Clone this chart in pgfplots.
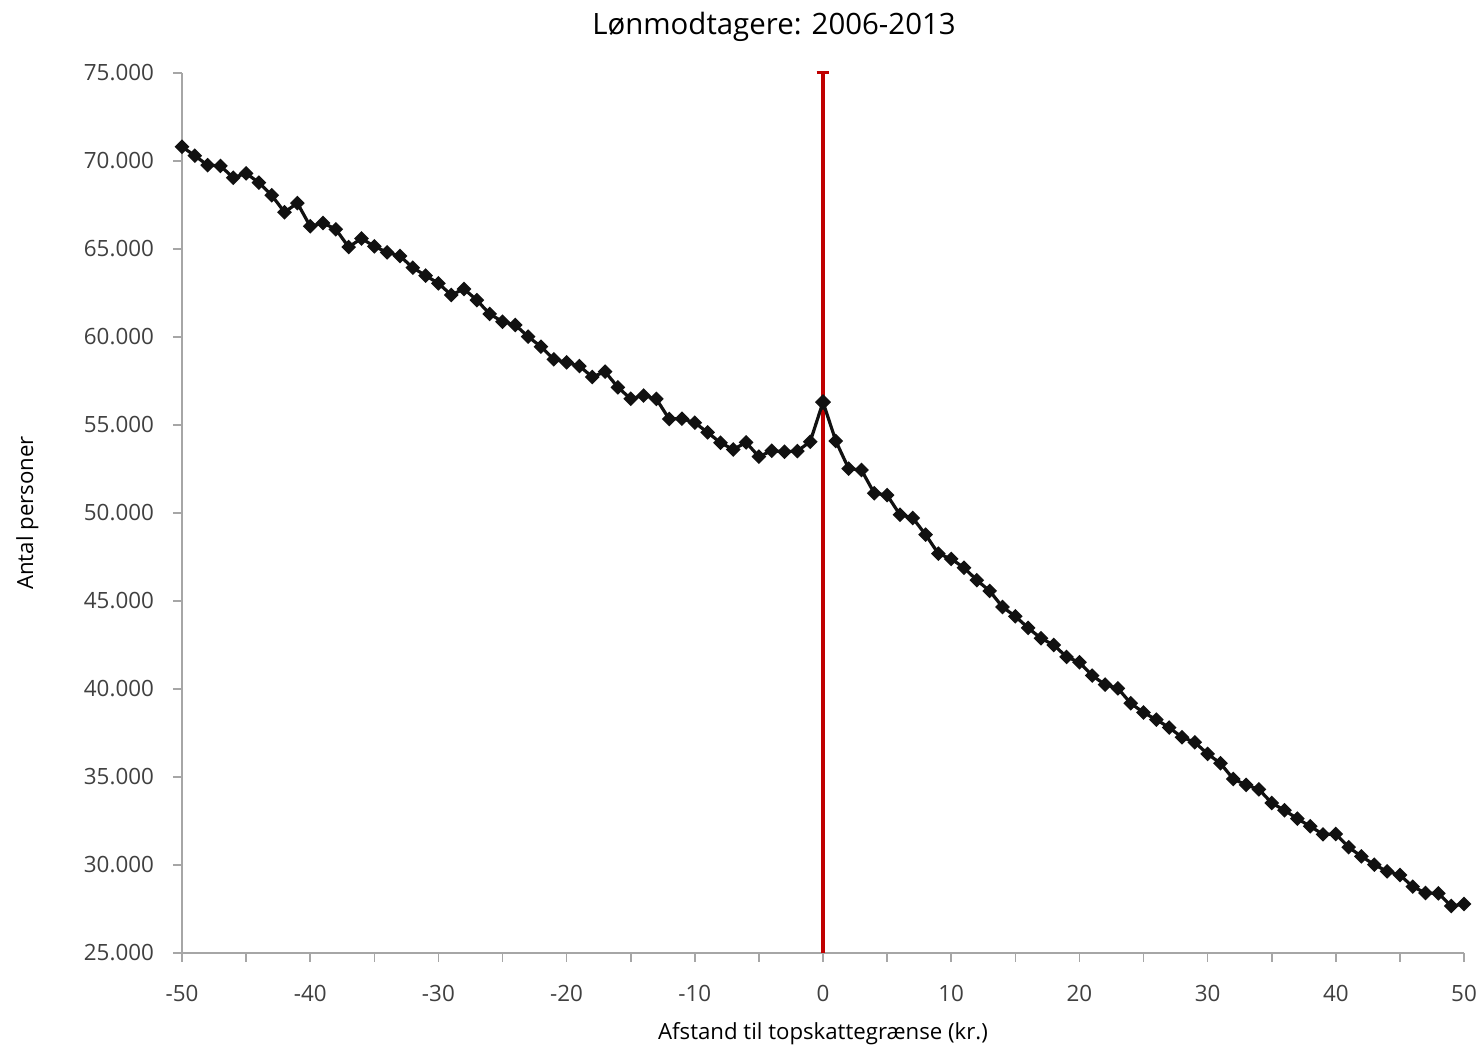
\documentclass[border=0pt]{standalone}
\usepackage{pgfplots}
\pgfplotsset{compat=1.18}
\usepackage{fontspec}
\setmainfont{Open Sans}

\definecolor{axisgray}{HTML}{A6A6A6}
\definecolor{ticktext}{HTML}{404040}
\definecolor{cutred}{HTML}{C00000}
\definecolor{serie}{HTML}{111111}

\pgfplotstableread{
x y
-50 70810
-49 70300
-48 69760
-47 69720
-46 69050
-45 69300
-44 68770
-43 68050
-42 67090
-41 67610
-40 66290
-39 66480
-38 66120
-37 65110
-36 65600
-35 65150
-34 64810
-33 64600
-32 63940
-31 63490
-30 63050
-29 62390
-28 62730
-27 62090
-26 61310
-25 60870
-24 60680
-23 60020
-22 59450
-21 58730
-20 58560
-19 58350
-18 57730
-17 58030
-16 57140
-15 56490
-14 56670
-13 56480
-12 55340
-11 55360
-10 55130
-9 54580
-8 53990
-7 53610
-6 54010
-5 53200
-4 53540
-3 53480
-2 53520
-1 54050
0 56300
1 54090
2 52520
3 52440
4 51120
5 51020
6 49900
7 49720
8 48770
9 47690
10 47390
11 46890
12 46180
13 45570
14 44660
15 44130
16 43470
17 42880
18 42500
19 41820
20 41520
21 40760
22 40250
23 40040
24 39190
25 38660
26 38260
27 37810
28 37260
29 36970
30 36310
31 35780
32 34890
33 34550
34 34300
35 33520
36 33110
37 32630
38 32200
39 31740
40 31760
41 31010
42 30490
43 30020
44 29640
45 29430
46 28770
47 28410
48 28390
49 27670
50 27780
}\lonmod

\begin{document}
\begin{tikzpicture}
\begin{axis}[
    scale only axis,
    width=641pt, height=440pt,
    xmin=-50, xmax=50,
    ymin=25000, ymax=75000,
    axis lines*=left,
    axis line style={axisgray, line width=0.8pt},
    tick style={axisgray, line width=0.8pt},
    tick align=outside,
    major tick length=4.5pt,
    minor tick length=4.5pt,
    xtick distance=10,
    minor x tick num=1,
    ytick distance=5000,
    clip=false,
    /pgf/number format/assume math mode=true,
    /pgf/number format/1000 sep={.},
    scaled y ticks=false,
    ticklabel style={font=\fontsize{11.2}{13}\selectfont, text=ticktext},
    xticklabel style={anchor=base, yshift=-20pt},
    yticklabel style={anchor=east, xshift=-6pt},
    xlabel={Afstand til topskattegrænse (kr.)},
    ylabel={Antal personer},
    label style={font=\fontsize{11.1}{13}\selectfont},
    xlabel style={at={(axis description cs:0.5,0)}, anchor=base, yshift=-43.5pt},
    ylabel style={at={(axis description cs:-0.1162,0.5)}, anchor=base},
]
\addplot[draw=none, mark=none, forget plot,
    error bars/.cd, y dir=plus, y explicit,
    error bar style={color=cutred, line width=2pt},
    error mark options={cutred, rotate=90, mark size=3.2pt, line width=1.5pt}]
    coordinates {(0,25000) +- (0,50000)};
\addplot[serie, line width=1.6pt, mark=square*, mark size=1.8pt,
    mark options={rotate=45, fill=serie}] table[x=x, y=y] {\lonmod};
\addplot[serie, only marks, mark=square*, mark size=2.6pt,
    mark options={rotate=45, fill=serie}] coordinates {(0,56300)};
\node[font=\fontsize{14.7}{17}\selectfont, anchor=base] at ([xshift=296pt, yshift=459pt]current axis.south west) {Lønmodtagere: 2006-2013};
\end{axis}
\path ([xshift=-91pt, yshift=-48.5pt]current axis.south west) rectangle ++(742pt,525pt);
\end{tikzpicture}
\end{document}
